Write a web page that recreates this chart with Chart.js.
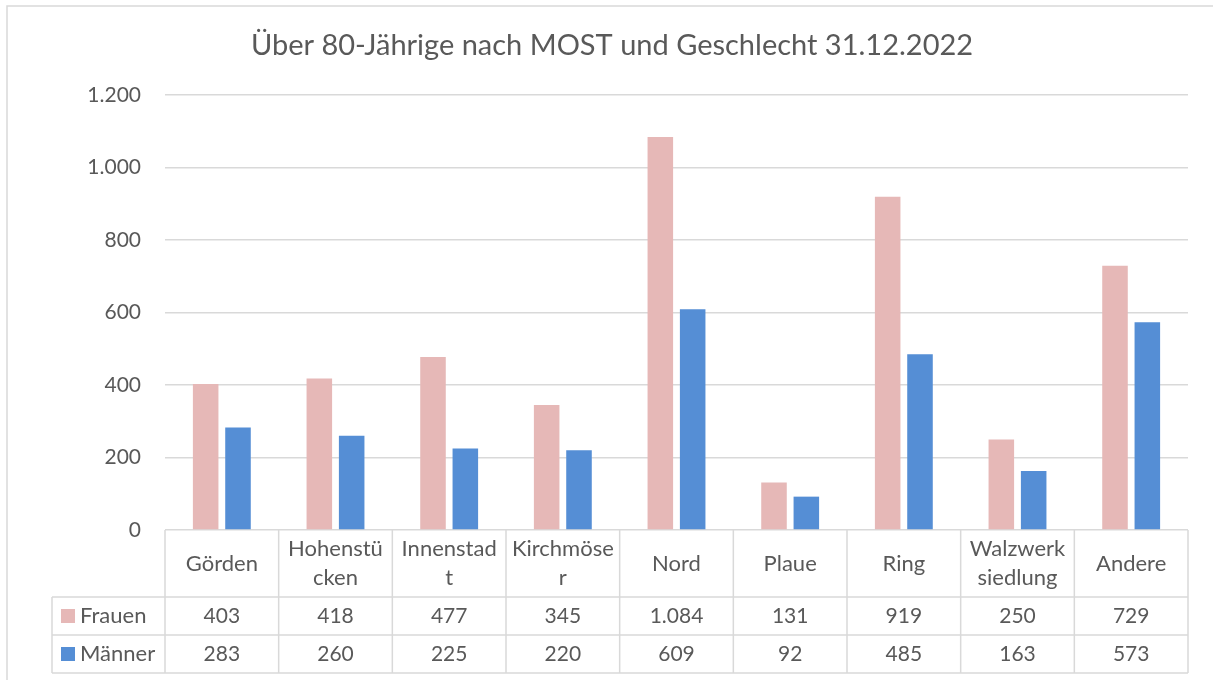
<!DOCTYPE html>
<html lang="de">
<head>
<meta charset="utf-8">
<title>Über 80-Jährige nach MOST und Geschlecht 31.12.2022</title>
<script src="https://cdn.jsdelivr.net/npm/chart.js@4"></script>
<style>
  html, body { margin: 0; padding: 0; background: #ffffff; overflow: hidden; }
  canvas { display: block; }
</style>
</head>
<body>
<canvas id="chart" width="1213" height="680"></canvas>
<script>
// Stadtteile (MOST), as they wrap in the table header
const categories = [
  ["Görden"], ["Hohenstü", "cken"], ["Innenstad", "t"], ["Kirchmöse", "r"],
  ["Nord"], ["Plaue"], ["Ring"], ["Walzwerk", "siedlung"], ["Andere"]
];
const seriesNames = ["Frauen", "Männer"];
const frauen = [403, 418, 477, 345, 1084, 131, 919, 250, 729];
const maenner = [283, 260, 225, 220, 609, 92, 485, 163, 573];
const yMax = 1200;
const yStep = 200;
const titleText = "Über 80-Jährige nach MOST und Geschlecht 31.12.2022";

const colors = ["#e6b8b7", "#558ed5"];
const textColor = "#595959";
const lineColor = "#d9d9d9";
const fontFamily = "Lato, 'Noto Sans', sans-serif";

// German number format: thousands separated by "."
function fmt(v) {
  return String(v).replace(/\B(?=(\d{3})+(?!\d))/g, ".");
}

// Outer chart frame (left and top edges fall inside the canvas)
const framePlugin = {
  id: "frame",
  beforeDraw(chart) {
    const ctx = chart.ctx;
    ctx.save();
    ctx.fillStyle = "#ffffff";
    ctx.fillRect(0, 0, chart.width, chart.height);
    ctx.strokeStyle = lineColor;
    ctx.lineWidth = 1.5;
    ctx.beginPath();
    ctx.moveTo(7, chart.height);
    ctx.lineTo(7, 6);
    ctx.lineTo(chart.width, 6);
    ctx.stroke();
    ctx.restore();
  }
};

// Title and data table beneath the plot, aligned with the category scale
const tablePlugin = {
  id: "dataTable",
  afterDraw(chart) {
    const ctx = chart.ctx;
    const x = chart.scales.x;
    const area = chart.chartArea;
    const half = (x.getPixelForValue(1) - x.getPixelForValue(0)) / 2;
    const right = area.right;
    const top = area.bottom;
    const headerH = 67, rowH = 38;
    const r1 = top + headerH, r2 = r1 + rowH, r3 = r2 + rowH;
    const keyLeft = 52;

    ctx.save();
    // title
    ctx.fillStyle = textColor;
    ctx.font = "29px " + fontFamily;
    ctx.textAlign = "center";
    ctx.textBaseline = "middle";
    ctx.fillText(titleText, 612, 46);

    // grid of the table
    ctx.strokeStyle = lineColor;
    ctx.lineWidth = 1.5;
    ctx.beginPath();
    [r1, r2, r3].forEach(y => { ctx.moveTo(keyLeft, y); ctx.lineTo(right, y); });
    ctx.moveTo(keyLeft, r1); ctx.lineTo(keyLeft, r3);
    for (let i = 0; i <= categories.length; i++) {
      const xe = i < categories.length ? x.getPixelForValue(i) - half : right;
      ctx.moveTo(xe, top); ctx.lineTo(xe, r3);
    }
    ctx.stroke();

    // header labels
    ctx.font = "22px " + fontFamily;
    ctx.fillStyle = textColor;
    categories.forEach((lines, i) => {
      const cx = x.getPixelForValue(i);
      const lh = 29;
      const y0 = top + headerH / 2 - (lines.length - 1) * lh / 2;
      lines.forEach((t, k) => ctx.fillText(t, cx, y0 + k * lh));
    });

    // series rows
    const rows = [frauen, maenner];
    rows.forEach((vals, s) => {
      const cy = (s === 0 ? r1 : r2) + rowH / 2;
      ctx.fillStyle = colors[s];
      ctx.fillRect(keyLeft + 9, cy - 7, 14, 14);
      ctx.fillStyle = textColor;
      ctx.font = "22px " + fontFamily;
      ctx.textAlign = "left";
      ctx.fillText(seriesNames[s], keyLeft + 28, cy);
      ctx.textAlign = "center";
      ctx.font = "21px " + fontFamily;
      vals.forEach((v, i) => ctx.fillText(fmt(v), x.getPixelForValue(i), cy));
    });
    ctx.restore();
  }
};

Chart.defaults.font.family = fontFamily;
Chart.defaults.color = textColor;

new Chart(document.getElementById("chart"), {
  type: "bar",
  data: {
    labels: categories,
    datasets: [
      { label: seriesNames[0], data: frauen, backgroundColor: colors[0] },
      { label: seriesNames[1], data: maenner, backgroundColor: colors[1] }
    ]
  },
  options: {
    responsive: false,
    animation: false,
    maintainAspectRatio: false,
    categoryPercentage: 0.569,
    barPercentage: 0.79,
    layout: { padding: { top: 95, right: 25, bottom: 150, left: 0 } },
    plugins: {
      legend: { display: false },
      title: { display: false },
      tooltip: { enabled: false }
    },
    scales: {
      x: { display: false },
      y: {
        min: 0,
        max: yMax,
        border: { display: false },
        grid: { color: lineColor, lineWidth: 1.5, drawTicks: false },
        ticks: {
          stepSize: yStep,
          padding: 24,
          color: textColor,
          font: { size: 21 },
          callback: v => fmt(v)
        },
        afterFit(scale) { scale.width = 165; }
      }
    }
  },
  plugins: [framePlugin, tablePlugin]
});
</script>
</body>
</html>
